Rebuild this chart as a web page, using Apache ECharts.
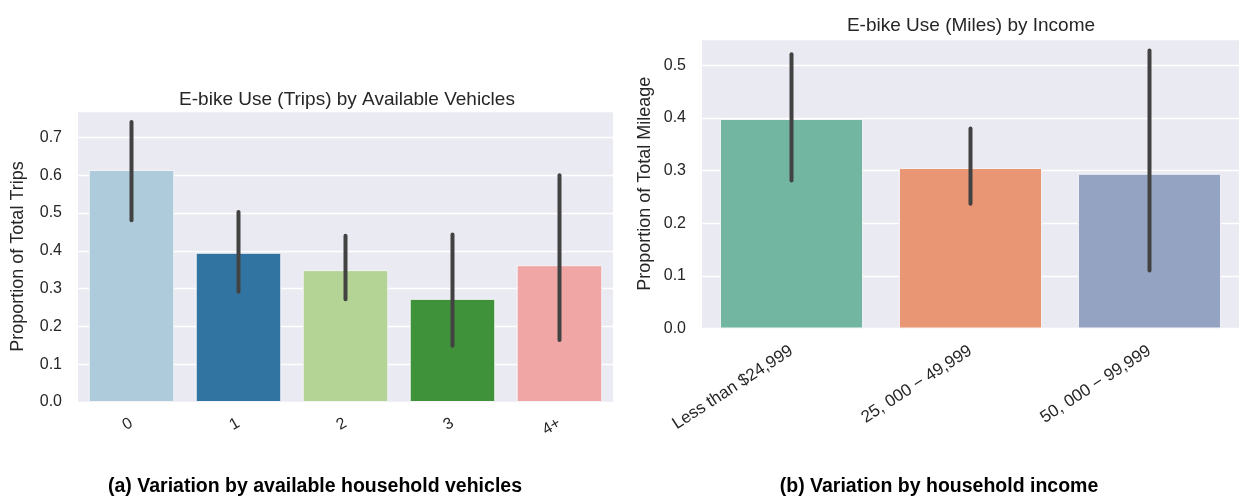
<!DOCTYPE html>
<html>
<head>
<meta charset="utf-8">
<script src="https://cdn.jsdelivr.net/npm/echarts@6/dist/echarts.min.js"></script>
<style>
  html, body { margin: 0; padding: 0; background: #ffffff; }
  #chart { width: 1239px; height: 497px; }
</style>
</head>
<body>
<div id="chart"></div>
<script>
// Panel (a): share of trips by available household vehicles
const vehicleCats = ['0', '1', '2', '3', '4+'];
const vehicleMean = [0.614, 0.395, 0.349, 0.273, 0.362];
const vehicleLow  = [0.481, 0.292, 0.272, 0.149, 0.164];
const vehicleHigh = [0.741, 0.503, 0.440, 0.443, 0.600];
const vehicleColors = ['#aecbdb', '#3274a1', '#b3d495', '#40923a', '#efa6a5'];

// Panel (b): share of mileage by household income
const incomeCats = ['Less than $24,999', '25, 000 \u2212 49,999', '50, 000 \u2212 99,999'];
const incomeMean = [0.398, 0.305, 0.294];
const incomeLow  = [0.281, 0.237, 0.110];
const incomeHigh = [0.521, 0.380, 0.528];
const incomeColors = ['#72b6a1', '#e99675', '#95a3c3'];

const yTicksLeft = [0, 0.1, 0.2, 0.3, 0.4, 0.5, 0.6, 0.7];
const yTicksRight = [0, 0.1, 0.2, 0.3, 0.4, 0.5];

const FONT = '"Liberation Sans", Arial, sans-serif';
const TEXT = '#262626';

function errData(low, high) {
  return low.map((l, i) => [i, l, high[i]]);
}

function errorSeries(idx, low, high) {
  return {
    type: 'custom',
    xAxisIndex: idx,
    yAxisIndex: idx,
    silent: true,
    z: 5,
    encode: { x: 0, y: [1, 2] },
    data: errData(low, high),
    renderItem: function (params, api) {
      const a = api.coord([api.value(0), api.value(1)]);
      const b = api.coord([api.value(0), api.value(2)]);
      return {
        type: 'line',
        shape: { x1: a[0], y1: a[1], x2: b[0], y2: b[1] },
        style: { stroke: '#424242', lineWidth: 4, lineCap: 'round' }
      };
    }
  };
}

function barSeries(idx, values, colors) {
  return {
    type: 'bar',
    xAxisIndex: idx,
    yAxisIndex: idx,
    barCategoryGap: '20%',
    data: values.map((v, i) => ({
      value: v,
      itemStyle: { color: colors[i], borderColor: '#f4f4f8', borderWidth: 1 }
    }))
  };
}

function yAxis(gridIndex, ticks, max, name, nameGap) {
  return {
    type: 'value',
    gridIndex: gridIndex,
    min: 0,
    max: max,
    interval: 0.1,
    name: name,
    nameLocation: 'middle',
    nameGap: nameGap,
    nameTextStyle: { fontFamily: FONT, fontSize: 18, color: TEXT },
    axisLine: { show: false },
    axisTick: { show: false },
    axisLabel: {
      fontFamily: FONT, fontSize: 16, color: TEXT, margin: 16,
      showMaxLabel: false,
      formatter: function (v) {
        return ticks.some(t => Math.abs(t - v) < 1e-6) ? v.toFixed(1) : '';
      }
    },
    splitLine: { lineStyle: { color: '#ffffff', width: 1.4 } }
  };
}

function xAxis(gridIndex, cats, rotate, margin, fontSize) {
  return {
    type: 'category',
    gridIndex: gridIndex,
    data: cats,
    axisLine: { show: false },
    axisTick: { show: false },
    splitLine: { show: false },
    axisLabel: {
      fontFamily: FONT, fontSize: fontSize, color: TEXT,
      rotate: rotate, margin: margin, interval: 0
    }
  };
}

const chart = echarts.init(document.getElementById('chart'), null, { renderer: 'canvas' });

chart.setOption({
  animation: false,
  backgroundColor: '#ffffff',
  title: [
    {
      text: 'E-bike Use (Trips) by Available Vehicles',
      left: 342, top: 85, textAlign: 'center',
      textStyle: { fontFamily: FONT, fontSize: 19, fontWeight: 'normal', color: TEXT }
    },
    {
      text: 'E-bike Use (Miles) by Income',
      left: 966, top: 11, textAlign: 'center',
      textStyle: { fontFamily: FONT, fontSize: 19, fontWeight: 'normal', color: TEXT }
    },
    {
      text: '(a) Variation by available household vehicles',
      left: 310, top: 472, textAlign: 'center',
      textStyle: { fontFamily: FONT, fontSize: 19.5, fontWeight: 'bold', color: '#000000' }
    },
    {
      text: '(b) Variation by household income',
      left: 934, top: 472, textAlign: 'center',
      textStyle: { fontFamily: FONT, fontSize: 19.5, fontWeight: 'bold', color: '#000000' }
    }
  ],
  grid: [
    { left: 78, top: 111, width: 535, height: 291, show: true, backgroundColor: '#eaeaf2', borderWidth: 0 },
    { left: 702, top: 39, width: 537, height: 289.5, show: true, backgroundColor: '#eaeaf2', borderWidth: 0 }
  ],
  xAxis: [
    xAxis(0, vehicleCats, 30, 20, 16),
    xAxis(1, incomeCats, 33, 21, 17)
  ],
  yAxis: [
    yAxis(0, yTicksLeft, 0.77, 'Proportion of Total Trips', 51),
    yAxis(1, yTicksRight, 0.55, 'Proportion of Total Mileage', 48)
  ],
  series: [
    barSeries(0, vehicleMean, vehicleColors),
    errorSeries(0, vehicleLow, vehicleHigh),
    barSeries(1, incomeMean, incomeColors),
    errorSeries(1, incomeLow, incomeHigh)
  ]
});
</script>
</body>
</html>
